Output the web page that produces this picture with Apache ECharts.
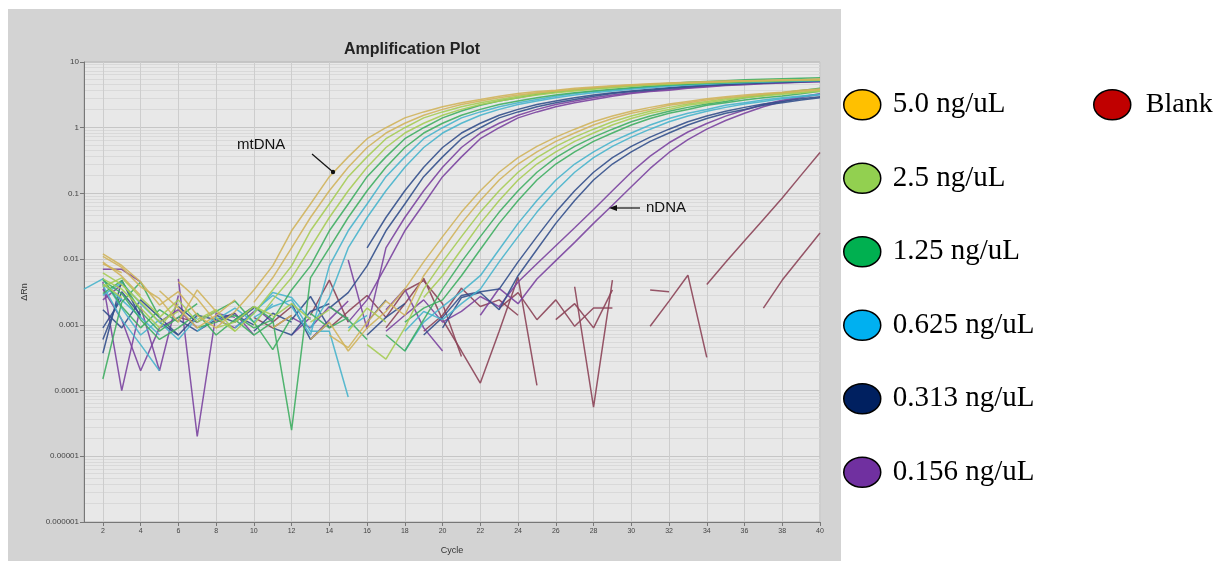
<!DOCTYPE html>
<html>
<head>
<meta charset="utf-8">
<script src="https://cdn.jsdelivr.net/npm/echarts@6/dist/echarts.min.js"></script>
<style>
  html, body { margin: 0; padding: 0; background: #fff; }
  #chart { width: 1225px; height: 563px; }
</style>
</head>
<body>
<div id="chart"></div>
<script>
const _ = null;

// cycles 1..40
const cycles = Array.from({ length: 40 }, (d, i) => String(i + 1));

const concLabels = ['5.0 ng/uL', '2.5 ng/uL', '1.25 ng/uL', '0.625 ng/uL', '0.313 ng/uL', '0.156 ng/uL'];
const blankLabel = 'Blank';
const legendColors = ['#FFC000', '#92D050', '#00B050', '#00B0F0', '#002060', '#7030A0'];
const blankLegendColor = '#C00000';
const lineColors = ['#d0b45c', '#a6cc55', '#3fae62', '#48b4cc', '#34508c', '#7b44a0'];
const blankLineColor = '#8c4458';

// ΔRn per cycle, one row of 10 cycles per line (c1-10, c11-20, c21-30, c31-40)
// mtDNA wells
const mt50a = [
  _, .012, .008, .0045, .002, .0032, .0014, .0009, .0016, .0034,
  .0079, .027, .069, .18, .36, .68, 1.0, 1.41, 1.74, 2.09,
  2.4, 2.69, 3.02, 3.31, 3.55, 3.72, 3.98, 4.17, 4.37, 4.52,
  4.68, 4.79, 4.9, 5.01, 5.13, 5.19, 5.25, 5.31, 5.37, 5.5];
const mt50b = [
  _, .009, .0055, .0028, _, .0045, .0025, .0011, _, .0022,
  .0052, .0148, .043, .11, .25, .50, .83, 1.17, 1.55, 1.9,
  2.25, 2.55, 2.85, 3.15, 3.4, 3.63, 3.85, 4.07, 4.27, 4.45,
  4.6, 4.73, 4.85, 4.95, 5.07, 5.16, 5.22, 5.28, 5.34, 5.43];
const mt25a = [
  _, .005, .0035, .0018, .0009, .0021, _, .0013, .0008, .0015,
  .0034, .0079, .027, .069, .18, .36, .68, 1.0, 1.41, 1.74,
  2.09, 2.4, 2.69, 3.02, 3.31, 3.55, 3.72, 3.98, 4.17, 4.37,
  4.52, 4.68, 4.79, 4.9, 5.01, 5.13, 5.19, 5.25, 5.31, 5.37];
const mt25b = [
  _, .0042, .0026, _, .0013, .0024, .0011, .0016, _, .001,
  .0024, .0052, .0148, .043, .11, .25, .50, .83, 1.17, 1.55,
  1.9, 2.25, 2.55, 2.85, 3.15, 3.4, 3.63, 3.85, 4.07, 4.27,
  4.45, 4.6, 4.73, 4.85, 4.95, 5.07, 5.16, 5.22, 5.28, 5.34];
const mt125a = [
  _, .0048, .003, .0012, .0006, .0009, .0015, .0007, .0012, .0019,
  .0012, .0034, .0079, .027, .069, .18, .36, .68, 1.0, 1.41,
  1.8, 2.2, 2.55, 2.85, 3.2, 3.5, 3.75, 3.95, 4.15, 4.35,
  4.5, 4.7, 4.9, 5.05, 5.2, 5.35, 5.45, 5.55, 5.65, 5.75];
const mt125b = [
  _, .00015, .0022, .0045, .0013, _, .0009, .0011, .0014, .0009,
  .0012, .000025, .0052, .0148, .043, .11, .25, .50, .83, 1.17,
  1.55, 1.9, 2.25, 2.55, 2.85, 3.15, 3.4, 3.63, 3.85, 4.07,
  4.27, 4.45, 4.6, 4.73, 4.85, 4.95, 5.07, 5.16, 5.22, 5.28];
const mt0625a = [
  .0035, .005, .0018, .0007, .0012, _, .0008, .0013, _, .0016,
  .0028, .0019, .0007, .0079, .027, .069, .18, .36, .68, 1.0,
  1.41, 1.74, 2.09, 2.4, 2.69, 3.02, 3.31, 3.55, 3.72, 3.98,
  4.17, 4.37, 4.52, 4.68, 4.79, 4.9, 5.01, 5.13, 5.19, 5.25];
const mt0625b = [
  _, .004, .0012, .0005, .0002, _, _, .0012, .0018, .0011,
  .0021, _, .0009, .0026, .0148, .043, .11, .25, .50, .83,
  1.17, 1.55, 1.9, 2.25, 2.55, 2.85, 3.15, 3.4, 3.63, 3.85,
  4.07, 4.27, 4.45, 4.6, 4.73, 4.85, 4.95, 5.07, 5.16, 5.22];
const mt0313a = [
  _, .00037, .0048, .0013, _, .0019, .0011, _, .0014, .001,
  _, .0021, .0006, .0011, _, .0148, .043, .11, .25, .50,
  .83, 1.17, 1.55, 1.9, 2.25, 2.55, 2.85, 3.15, 3.4, 3.63,
  3.85, 4.07, 4.27, 4.45, 4.6, 4.73, 4.85, 4.95, 5.07, 5.16];
const mt0313b = [
  _, .0009, .0025, _, .0011, .0007, .0014, .0012, _, .0008,
  .0015, .0011, _, .0018, .0031, .0079, .027, .069, .18, .36,
  .68, 1.0, 1.41, 1.74, 2.09, 2.4, 2.69, 3.02, 3.31, 3.55,
  3.72, 3.98, 4.17, 4.37, 4.52, 4.68, 4.79, 4.9, 5.01, 5.13];
const mt0156a = [
  _, .007, .007, .0045, _, .005, .00002, .0015, .0013, _,
  .0011, _, .0009, _, .0097, .00087, .0148, .043, .11, .25,
  .50, .83, 1.17, 1.55, 1.9, 2.25, 2.55, 2.85, 3.15, 3.4,
  3.63, 3.85, 4.07, 4.27, 4.45, 4.6, 4.73, 4.85, 4.95, 5.07];
const mt0156b = [
  _, .0045, .0001, .0019, .0002, .0028, _, .0012, .0009, .0016,
  _, .0007, .0013, _, .0011, .0024, .0079, .027, .069, .18,
  .36, .68, 1.0, 1.41, 1.74, 2.09, 2.4, 2.69, 3.02, 3.31,
  3.55, 3.72, 3.98, 4.17, 4.37, 4.52, 4.68, 4.79, 4.9, 5.01];

// nDNA wells
const nd50a = [
  _, .011, .0075, .0038, .0025, .0011, .0034, .0016, _, .0012,
  _, _, .0006, .0011, .0004, .0009, .0016, .0035, .0091, .022,
  .052, .11, .21, .35, .52, .72, .95, 1.23, 1.51, 1.78,
  2.04, 2.29, 2.51, 2.75, 2.95, 3.16, 3.31, 3.47, 3.72, 3.89];
const nd50b = [
  _, .0085, .0062, _, .0033, .0018, .0009, .0014, .0024, _,
  .0009, .0014, _, .0007, .00045, .0011, .0023, .0014, .0056, .014,
  .035, .078, .16, .28, .43, .62, .83, 1.1, 1.38, 1.66,
  1.9, 2.19, 2.4, 2.63, 2.85, 3.05, 3.24, 3.39, 3.59, 3.8];
const nd25a = [
  _, .0062, .0041, .0022, .0011, .0016, _, .0009, .0011, .0019,
  .0014, _, .0011, .0017, _, .0005, .0003, .0009, .0035, .0091,
  .022, .052, .11, .21, .35, .52, .72, .95, 1.23, 1.51,
  1.78, 2.04, 2.29, 2.51, 2.75, 2.95, 3.16, 3.31, 3.47, 3.72];
const nd25b = [
  _, .0038, .0052, .0026, .0014, _, .0012, .0017, .0008, _,
  .0013, .0021, .0012, _, .0008, .0018, .0011, _, .0026, .0056,
  .014, .035, .078, .16, .28, .43, .62, .83, 1.1, 1.38,
  1.66, 1.9, 2.19, 2.4, 2.63, 2.85, 3.05, 3.24, 3.39, 3.59];
const nd125a = [
  _, .003, .0047, .0016, .0008, .0013, .0021, _, .0012, .0007,
  .0011, _, .0015, .0009, .0013, _, .0007, .0004, .0012, .0035,
  .0091, .022, .052, .11, .21, .35, .52, .72, .95, 1.23,
  1.51, 1.78, 2.04, 2.29, 2.51, 2.85, 3.1, 3.4, 3.7, 4.0];
const nd125b = [
  _, .0051, .0019, .0009, .0017, .0011, _, .0016, .0023, .0011,
  .00042, .0013, _, .0019, .0012, .0006, _, .0011, .0018, .0024,
  .0056, .014, .035, .078, .16, .28, .43, .62, .83, 1.1,
  1.38, 1.66, 1.9, 2.19, 2.4, 2.63, 2.85, 3.05, 3.3, 3.6];
const nd0625a = [
  _, .0042, .0024, .0013, .0007, _, .0011, .0016, _, .0013,
  .0019, .0024, .0008, .0008, .00008, _, _, .0004, .0011, .0019,
  .0032, .0056, .014, .035, .078, .16, .28, .43, .62, .83,
  1.1, 1.38, 1.66, 1.9, 2.19, 2.4, 2.63, 2.85, 3.05, 3.24];
const nd0625b = [
  _, .0028, .0044, .0021, .0011, .0006, .0013, _, .0009, .0015,
  .0031, .0026, .0012, _, .0009, .0014, _, .0008, .0016, .0012,
  .0021, .0035, .0091, .022, .052, .11, .21, .35, .52, .72,
  .95, 1.23, 1.51, 1.78, 2.04, 2.29, 2.51, 2.75, 2.95, 3.16];
const nd0313a = [
  _, .0006, .0032, .0014, _, .0012, .0008, .0012, .0015, _,
  .0009, .0007, .0016, .0021, _, .0011, .0024, _, .0007, .0013,
  .0028, .0032, .0035, .0091, .022, .052, .11, .21, .35, .52,
  .72, .95, 1.23, 1.51, 1.78, 2.04, 2.29, 2.51, 2.75, 2.95];
const nd0313b = [
  _, .0017, .0009, .0024, .0013, .0007, _, .0014, .0011, .0018,
  _, .0012, .0027, .0009, _, .0007, .0013, .0021, _, .0009,
  .0026, .0031, .0017, .0056, .014, .035, .078, .16, .28, .43,
  .62, .83, 1.1, 1.38, 1.66, 1.9, 2.19, 2.4, 2.63, 2.85];
const nd0156a = [
  _, .0035, .0012, .0002, .0009, .0013, _, .0011, .0015, .0007,
  _, .0013, .0009, .0019, .0012, _, .0017, .0035, .0009, .0004,
  _, .0014, .0036, .0021, .005, .0095, .018, .035, .066, .126,
  .24, .42, .66, .95, 1.29, 1.66, 2.09, 2.51, 2.88, 3.24];
const nd0156b = [
  _, .0024, .0041, _, .0011, .0017, .0009, _, .0012, .0019,
  .0011, _, .0006, .0012, .0023, _, .0008, .0014, .0024, .0011,
  .0016, .0027, .0019, .0045, .0085, .016, .03, .057, .11, .21,
  .37, .59, .86, 1.16, 1.5, 1.86, 2.25, 2.62, 2.95, 3.28];

// blank wells
const blank1 = [
  _, _, _, _, _, _, _, _, _, _,
  _, _, .0014, .0048, .0011, _, .0009, .0021, .0051, .0012,
  .0004, .00013, .0008, .0053, .00012, _, .0038, .000056, .0048, _,
  _, _, _, .0041, .009, .019, .04, .085, .19, .42];
const blank2 = [
  _, _, _, _, _, _, _, _, _, _,
  .0011, .0019, _, .0009, .0016, .0028, .0013, .0033, .0047, .0021,
  .00033, _, .0018, .0031, .0012, .0024, .00095, .0018, .0018, _,
  .00095, .0023, .0057, .00032, _, _, _, _, _, _];
const blank3 = [
  _, _, _, _, _, .0013, .0011, .0016, _, .0013,
  .0009, .0014, _, _, _, _, _, _, .0008, .0014,
  .0036, .0019, .0024, .0014, _, .0012, .0021, .0009, .0034, _,
  .0034, .0032, _, _, _, _, .0018, .0048, .011, .025];

const wellsByConc = [
  [mt50a, mt50b, nd50a, nd50b],
  [mt25a, mt25b, nd25a, nd25b],
  [mt125a, mt125b, nd125a, nd125b],
  [mt0625a, mt0625b, nd0625a, nd0625b],
  [mt0313a, mt0313b, nd0313a, nd0313b],
  [mt0156a, mt0156b, nd0156a, nd0156b]
];
const blankWells = [blank1, blank2, blank3];

function wellSeries(name, color, data) {
  return {
    name: name,
    type: 'line',
    data: data,
    symbol: 'none',
    connectNulls: false,
    color: color,
    lineStyle: { width: 1.5, color: color, opacity: 0.9 },
    emphasis: { disabled: true },
    z: 2
  };
}

const series = [];
blankWells.forEach(w => series.push(wellSeries(blankLabel, blankLineColor, w)));
for (let k = wellsByConc.length - 1; k >= 0; k--) {
  wellsByConc[k].forEach(w => series.push(wellSeries(concLabels[k], lineColors[k], w)));
}

const ellipseIcon = 'path://M0,15 A18.5,15 0 1,0 37,15 A18.5,15 0 1,0 0,15 Z';

function yLabel(v) {
  const e = Math.round(Math.log10(v));
  return e >= 0 ? String(Math.round(v)) : v.toFixed(-e);
}

const chart = echarts.init(document.getElementById('chart'));
chart.setOption({
  animation: false,
  backgroundColor: '#ffffff',
  title: {
    text: 'Amplification Plot',
    left: 339,
    top: 37,
    textStyle: { fontFamily: 'Liberation Sans', fontSize: 16, fontWeight: 'bold', color: '#222' }
  },
  legend: [{
    orient: 'vertical',
    left: 843,
    top: 89,
    padding: 0,
    itemGap: 42,
    itemWidth: 37,
    itemHeight: 30,
    icon: ellipseIcon,
    selectedMode: false,
    data: concLabels.map((n, i) => ({ name: n, itemStyle: { color: legendColors[i], borderColor: '#000', borderWidth: 1.5 } })),
    textStyle: { fontFamily: 'Liberation Serif', fontSize: 29, color: '#000', padding: [0, 0, 0, 7] }
  }, {
    orient: 'vertical',
    left: 1093,
    top: 89,
    padding: 0,
    itemWidth: 37,
    itemHeight: 30,
    icon: ellipseIcon,
    selectedMode: false,
    data: [{ name: blankLabel, itemStyle: { color: blankLegendColor, borderColor: '#000', borderWidth: 1.5 } }],
    textStyle: { fontFamily: 'Liberation Serif', fontSize: 28, color: '#000', padding: [0, 0, 0, 10] }
  }],
  grid: {
    left: 84, right: 405, top: 62, bottom: 41,
    show: true,
    backgroundColor: '#e8e8e8',
    borderColor: '#b4b4b4',
    borderWidth: 1
  },
  xAxis: {
    type: 'category',
    data: cycles,
    boundaryGap: false,
    name: 'Cycle',
    nameLocation: 'middle',
    nameGap: 24,
    nameTextStyle: { fontFamily: 'Liberation Sans', fontSize: 9, color: '#333' },
    axisLine: { lineStyle: { color: '#777' } },
    axisTick: { interval: (i, v) => Number(v) % 2 === 0, length: 4, lineStyle: { color: '#777' } },
    axisLabel: { interval: (i, v) => Number(v) % 2 === 0, fontFamily: 'Liberation Sans', fontSize: 7, color: '#444', margin: 6 },
    splitLine: { show: true, interval: (i, v) => Number(v) % 2 === 0, lineStyle: { color: '#cdcdcd', width: 1 } }
  },
  yAxis: {
    type: 'log',
    logBase: 10,
    min: 0.000001,
    max: 10,
    splitNumber: 7,
    name: 'ΔRn',
    nameLocation: 'middle',
    nameRotate: 90,
    nameGap: 55,
    nameTextStyle: { fontFamily: 'Liberation Sans', fontSize: 9, color: '#333' },
    axisLine: { show: true, lineStyle: { color: '#777' } },
    axisTick: { show: true, length: 4, lineStyle: { color: '#777' } },
    axisLabel: { formatter: yLabel, fontFamily: 'Liberation Sans', fontSize: 8, color: '#444', margin: 5 },
    splitLine: { show: true, lineStyle: { color: '#c6c6c6', width: 1 } },
    minorTick: { show: false, splitNumber: 10 },
    minorSplitLine: { show: true, lineStyle: { color: '#d9d9d9', width: 1 } }
  },
  graphic: [
    { type: 'rect', z: -10, shape: { x: 8, y: 9, width: 833, height: 552 }, style: { fill: '#d3d3d3' } },
    { type: 'text', zlevel: 1, z: 100, x: 237, y: 137, style: { text: 'mtDNA', fontFamily: 'Liberation Sans', fontSize: 15, fill: '#111' } },
    { type: 'line', zlevel: 1, z: 100, shape: { x1: 312, y1: 154, x2: 333, y2: 172 }, style: { stroke: '#111', lineWidth: 1.2 } },
    { type: 'circle', zlevel: 1, z: 100, shape: { cx: 333, cy: 172, r: 2.2 }, style: { fill: '#111' } },
    { type: 'text', zlevel: 1, z: 100, x: 646, y: 200, style: { text: 'nDNA', fontFamily: 'Liberation Sans', fontSize: 15, fill: '#111' } },
    { type: 'line', zlevel: 1, z: 100, shape: { x1: 640, y1: 208, x2: 614, y2: 208 }, style: { stroke: '#111', lineWidth: 1.2 } },
    { type: 'polygon', zlevel: 1, z: 100, shape: { points: [[609, 208], [617, 205], [617, 211]] }, style: { fill: '#111' } }
  ],
  series: series
});
</script>
</body>
</html>
